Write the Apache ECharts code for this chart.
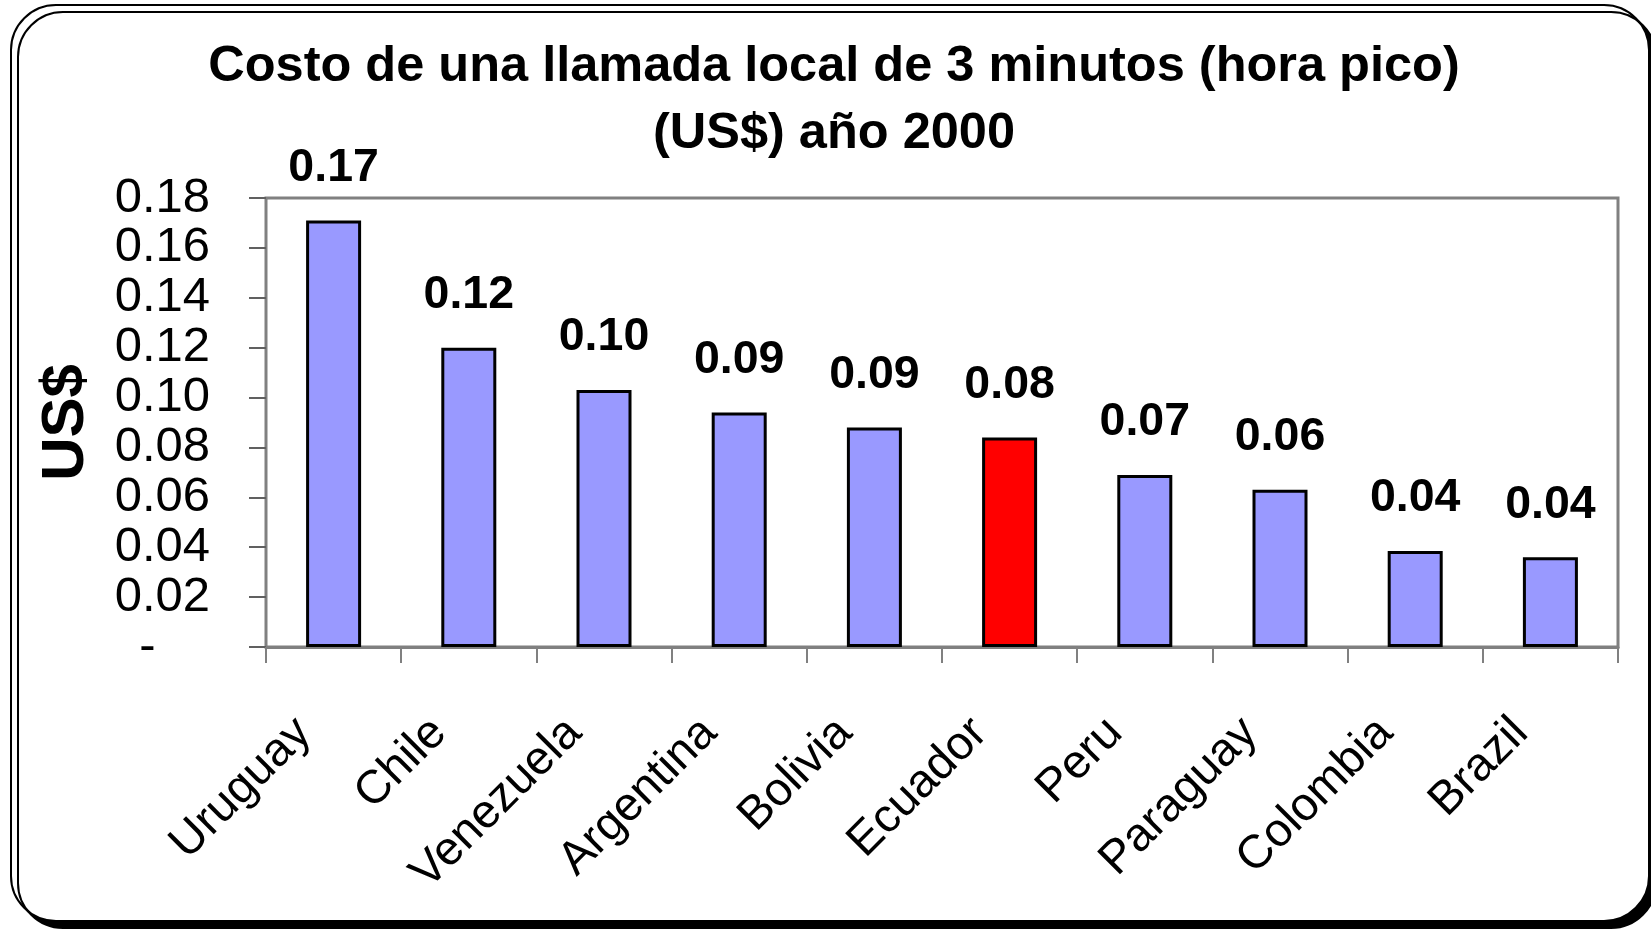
<!DOCTYPE html>
<html>
<head>
<meta charset="utf-8">
<script src="https://cdn.jsdelivr.net/npm/echarts@6/dist/echarts.min.js"></script>
<style>
  html, body { margin: 0; padding: 0; background: #ffffff; }
  #chart { width: 1651px; height: 929px; }
</style>
</head>
<body>
<div id="chart"></div>
<script>
// ---- data ----
const titleLines = ['Costo de una llamada local de 3 minutos (hora pico)', '(US$) año 2000'];
const yAxisName = 'US$';
const categories = ['Uruguay', 'Chile', 'Venezuela', 'Argentina', 'Bolivia', 'Ecuador', 'Peru', 'Paraguay', 'Colombia', 'Brazil'];
const costs = [0.171, 0.120, 0.103, 0.094, 0.088, 0.084, 0.069, 0.063, 0.0385, 0.036];
const yMin = 0;
const yMax = 0.18;
const yStep = 0.02;
const highlightCountry = 'Ecuador';

// ---- chart ----
const FONT = '"Liberation Sans", Arial, sans-serif';
const chart = echarts.init(document.getElementById('chart'), null, { renderer: 'canvas' });

const barData = categories.map((c, i) => ({
  value: costs[i],
  itemStyle: { color: c === highlightCountry ? '#FF0000' : '#9999FF' }
}));

chart.setOption({
  backgroundColor: '#ffffff',
  animation: false,
  graphic: {
    elements: [{
      type: 'rect',
      z: -100,
      shape: { x: 11, y: 5, width: 1638, height: 916, r: 45 },
      style: {
        fill: '#ffffff', stroke: '#000000', lineWidth: 2,
        shadowColor: '#000000', shadowOffsetX: 7, shadowOffsetY: 7, shadowBlur: 0
      }
    }]
  },
  title: {
    text: titleLines.join('\n'),
    left: 834,
    textAlign: 'center',
    top: 34,
    padding: 0,
    textStyle: {
      fontFamily: FONT, fontWeight: 'bold', fontSize: 50.5, lineHeight: 67, color: '#000000'
    }
  },
  grid: {
    left: 266, right: 33, top: 198, bottom: 282,
    show: true, borderColor: '#808080', borderWidth: 3, backgroundColor: 'transparent'
  },
  xAxis: {
    type: 'category',
    data: categories,
    axisLine: { show: true, lineStyle: { color: '#808080', width: 3 } },
    axisTick: { show: true, length: 16, lineStyle: { color: '#808080', width: 2 } },
    axisLabel: {
      rotate: 45, interval: 0, margin: 49,
      padding: [0, 42, 0, 0],
      fontFamily: FONT, fontSize: 47, color: '#000000'
    },
    splitLine: { show: false }
  },
  yAxis: {
    type: 'value',
    min: yMin, max: yMax, interval: yStep,
    name: yAxisName,
    nameLocation: 'middle',
    nameRotate: 90,
    nameGap: 170,
    nameTextStyle: { fontFamily: FONT, fontWeight: 'bold', fontSize: 60, color: '#000000' },
    axisLine: { show: true, lineStyle: { color: '#808080', width: 2 } },
    axisTick: { show: true, inside: false, length: 17, lineStyle: { color: '#606060', width: 2 } },
    axisLabel: {
      margin: 56,
      fontFamily: FONT, fontSize: 49, color: '#000000',
      formatter: v => (v === 0 ? '-    ' : v.toFixed(2))
    },
    splitLine: { show: false }
  },
  series: [{
    type: 'bar',
    data: barData,
    barWidth: 55,
    itemStyle: { borderColor: '#000000', borderWidth: 3 },
    label: {
      show: true, position: 'top', distance: 29,
      fontFamily: FONT, fontWeight: 'bold', fontSize: 46.5, color: '#000000',
      formatter: p => p.value.toFixed(2)
    }
  }]
});
</script>
</body>
</html>
